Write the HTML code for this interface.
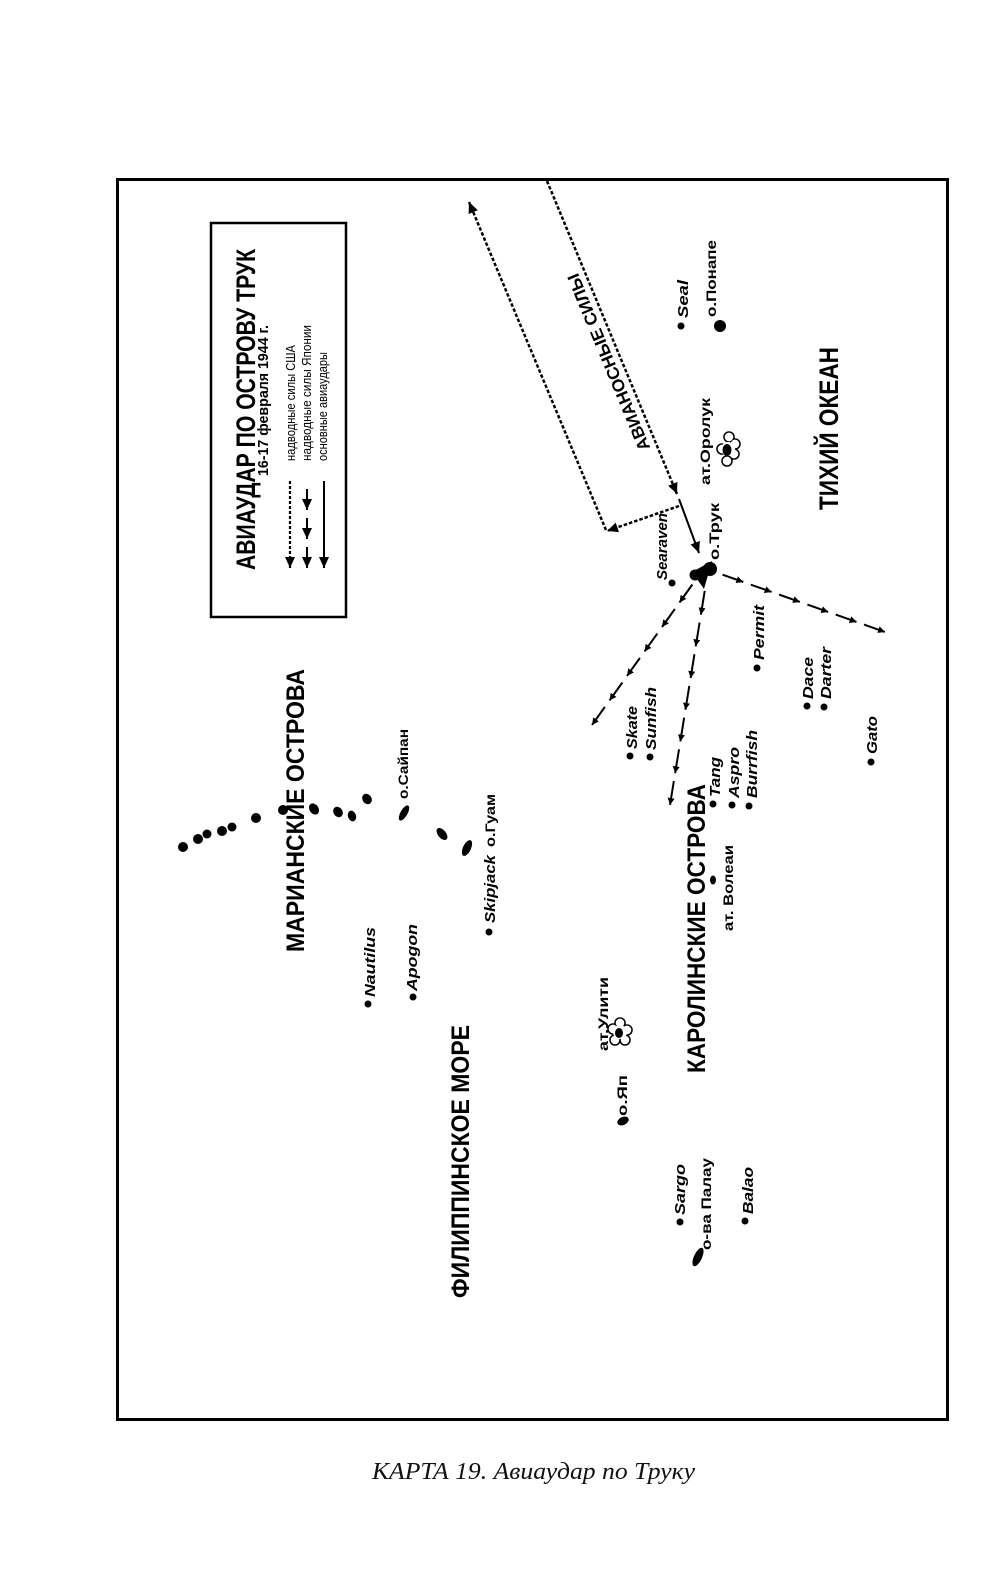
<!DOCTYPE html>
<html>
<head>
<meta charset="utf-8">
<style>
  html, body { margin:0; padding:0; background:#fff; }
  body { width:1000px; height:1578px; overflow:hidden; }
  svg { display:block; }
  .b { font-family:"Liberation Sans", "DejaVu Sans", sans-serif; font-weight:bold; fill:#000; }
  .r { font-family:"Liberation Sans", "DejaVu Sans", sans-serif; font-weight:normal; fill:#000; }
  .bi { font-family:"Liberation Sans", "DejaVu Sans", sans-serif; font-weight:bold; font-style:italic; fill:#000; }
  .cap { font-family:"Liberation Serif", "DejaVu Serif", serif; font-style:italic; fill:#111; }
</style>
</head>
<body>
<svg width="1000" height="1578" viewBox="0 0 1000 1578" xmlns="http://www.w3.org/2000/svg">
  <defs>
    <marker id="big" markerUnits="userSpaceOnUse" markerWidth="12" markerHeight="10" refX="11" refY="5" orient="auto">
      <path d="M0,0 L11,5 L0,10 z" fill="#000"/>
    </marker>
    <marker id="sm" markerUnits="userSpaceOnUse" markerWidth="8" markerHeight="7" refX="7" refY="3.5" orient="auto">
      <path d="M0,0 L7,3.5 L0,7 z" fill="#000"/>
    </marker>
  </defs>

  <rect x="0" y="0" width="1000" height="1578" fill="#fff"/>

  <!-- main frame -->
  <rect x="117.5" y="179.5" width="830" height="1240" fill="none" stroke="#000" stroke-width="3"/>

  <!-- legend box -->
  <rect x="211" y="223" width="135" height="394" fill="none" stroke="#000" stroke-width="2.5"/>
  <text class="b" font-size="27" transform="translate(255,570) rotate(-90)" textLength="321" lengthAdjust="spacingAndGlyphs">АВИАУДАР ПО ОСТРОВУ ТРУК</text>
  <text class="b" font-size="15" transform="translate(268,476) rotate(-90)" textLength="151" lengthAdjust="spacingAndGlyphs">16-17 февраля 1944 г.</text>
  <text class="r" font-size="13" transform="translate(295,461) rotate(-90)" textLength="116" lengthAdjust="spacingAndGlyphs">надводные силы США</text>
  <text class="r" font-size="13" transform="translate(311,461) rotate(-90)" textLength="136" lengthAdjust="spacingAndGlyphs">надводные силы Японии</text>
  <text class="r" font-size="13" transform="translate(327,461) rotate(-90)" textLength="109" lengthAdjust="spacingAndGlyphs">основные авиаудары</text>

  <!-- legend arrows -->
  <line x1="290" y1="481" x2="290" y2="568" stroke="#000" stroke-width="2.2" stroke-dasharray="3 2" marker-end="url(#big)"/>
  <polyline points="307,481 307,510 307,539 307,568" fill="none" stroke="#000" stroke-width="2" stroke-dasharray="21 8" stroke-dashoffset="-8" marker-mid="url(#big)" marker-end="url(#big)"/>
  <line x1="324" y1="481" x2="324" y2="568" stroke="#000" stroke-width="2" marker-end="url(#big)"/>

  <!-- US carrier forces (dotted) -->
  <line x1="547" y1="181" x2="677" y2="494" stroke="#000" stroke-width="2.5" stroke-dasharray="3.5 2" marker-end="url(#big)"/>
  <line x1="679" y1="506" x2="607" y2="531" stroke="#000" stroke-width="2.5" stroke-dasharray="3.5 2" marker-end="url(#big)"/>
  <line x1="606" y1="530" x2="469" y2="202" stroke="#000" stroke-width="2.5" stroke-dasharray="3.5 2" marker-end="url(#big)"/>
  <text class="b" font-size="17" text-anchor="middle" transform="translate(614,360) rotate(-112.5)" textLength="190" lengthAdjust="spacingAndGlyphs">АВИАНОСНЫЕ СИЛЫ</text>

  <!-- main strike arrow -->
  <line x1="679" y1="499" x2="699" y2="553" stroke="#000" stroke-width="2" marker-end="url(#big)"/>

  <!-- Japanese forces from Truk (dashed with arrowheads) -->
  <polyline points="697,578 679.5,602.5 662,627 644.5,651.5 627,676 609.5,700.5 592,725" fill="none" stroke="#000" stroke-width="2" stroke-dasharray="22.1 8" stroke-dashoffset="-8" marker-mid="url(#sm)" marker-end="url(#sm)"/>
  <polyline points="706,583 700.9,614.7 695.7,646.4 690.6,678.1 685.4,709.9 680.3,741.6 675.1,773.3 670,805" fill="none" stroke="#000" stroke-width="2" stroke-dasharray="24.1 8" stroke-dashoffset="-8" marker-mid="url(#sm)" marker-end="url(#sm)"/>
  <polyline points="715,572 743.3,582 771.7,592 800,602 828.3,612 856.7,622 885,632" fill="none" stroke="#000" stroke-width="2" stroke-dasharray="22 8" stroke-dashoffset="-8" marker-mid="url(#sm)" marker-end="url(#sm)"/>

  <!-- Truk blob -->
  <g fill="#000">
    <circle cx="710" cy="569" r="7"/>
    <circle cx="695" cy="575" r="5.5"/>
    <path d="M692,572 L712,561 L704,589 z"/>
  </g>

  <!-- Ponape -->
  <circle cx="720" cy="326" r="6" fill="#000"/>

  <!-- Oroluk atoll -->
  <g stroke="#000" stroke-width="1.6" fill="#fff">
    <circle cx="729" cy="437" r="5"/>
    <circle cx="735" cy="444" r="5"/>
    <circle cx="734" cy="454" r="5"/>
    <circle cx="727" cy="461" r="5"/>
    <circle cx="722" cy="449" r="5"/>
  </g>
  <g fill="#fff">
    <circle cx="729" cy="437" r="4.2"/>
    <circle cx="735" cy="444" r="4.2"/>
    <circle cx="734" cy="454" r="4.2"/>
    <circle cx="727" cy="461" r="4.2"/>
    <circle cx="722" cy="449" r="4.2"/>
    <circle cx="728" cy="449" r="7"/>
  </g>
  <ellipse cx="727" cy="450" rx="4.5" ry="6" fill="#000"/>

  <!-- Ulithi atoll -->
  <g stroke="#000" stroke-width="1.6" fill="#fff">
    <circle cx="620" cy="1023" r="5"/>
    <circle cx="627" cy="1030" r="5"/>
    <circle cx="625" cy="1040" r="5"/>
    <circle cx="615" cy="1040" r="5"/>
    <circle cx="613" cy="1029" r="5"/>
  </g>
  <g fill="#fff">
    <circle cx="620" cy="1023" r="4.2"/>
    <circle cx="627" cy="1030" r="4.2"/>
    <circle cx="625" cy="1040" r="4.2"/>
    <circle cx="615" cy="1040" r="4.2"/>
    <circle cx="613" cy="1029" r="4.2"/>
    <circle cx="620" cy="1032" r="7"/>
  </g>
  <ellipse cx="619" cy="1033" rx="4" ry="5" fill="#000"/>

  <!-- Mariana islands -->
  <g fill="#000">
    <circle cx="183" cy="847" r="5"/>
    <circle cx="198" cy="839" r="5"/>
    <circle cx="207" cy="834" r="4.5"/>
    <circle cx="222" cy="831" r="5"/>
    <circle cx="232" cy="827" r="4.5"/>
    <circle cx="256" cy="818" r="5"/>
    <circle cx="283" cy="810" r="5"/>
    <ellipse cx="314" cy="809" rx="4.5" ry="6" transform="rotate(-35 314 809)"/>
    <ellipse cx="338" cy="812" rx="4.5" ry="5.5" transform="rotate(-35 338 812)"/>
    <ellipse cx="352" cy="816" rx="4" ry="5.5" transform="rotate(-20 352 816)"/>
    <ellipse cx="367" cy="799" rx="4.5" ry="5.5" transform="rotate(-35 367 799)"/>
    <ellipse cx="404" cy="813" rx="3.5" ry="8.5" transform="rotate(30 404 813)"/>
    <ellipse cx="442" cy="834" rx="4" ry="7" transform="rotate(-40 442 834)"/>
    <ellipse cx="467" cy="848" rx="4" ry="8.5" transform="rotate(25 467 848)"/>
  </g>

  <!-- Other islands -->
  <g fill="#000">
    <ellipse cx="713" cy="880" rx="3" ry="4.5"/>
    <ellipse cx="623" cy="1121" rx="6" ry="4" transform="rotate(-25 623 1121)"/>
    <ellipse cx="698" cy="1257" rx="4" ry="10" transform="rotate(25 698 1257)"/>
  </g>

  <!-- Submarine dots -->
  <g fill="#000">
    <circle cx="681" cy="326" r="3.5"/>
    <circle cx="672" cy="583" r="3.5"/>
    <circle cx="757" cy="668" r="3.5"/>
    <circle cx="807" cy="706" r="3.5"/>
    <circle cx="824" cy="707" r="3.5"/>
    <circle cx="871" cy="762" r="3.5"/>
    <circle cx="630" cy="756" r="3.5"/>
    <circle cx="650" cy="757" r="3.5"/>
    <circle cx="713" cy="804" r="3.5"/>
    <circle cx="732" cy="805" r="3.5"/>
    <circle cx="749" cy="806" r="3.5"/>
    <circle cx="489" cy="932" r="3.5"/>
    <circle cx="368" cy="1004" r="3.5"/>
    <circle cx="413" cy="997" r="3.5"/>
    <circle cx="680" cy="1222" r="3.5"/>
    <circle cx="745" cy="1221" r="3.5"/>
  </g>

  <!-- Region labels -->
  <text class="b" font-size="25" transform="translate(304,952) rotate(-90)" textLength="283" lengthAdjust="spacingAndGlyphs">МАРИАНСКИЕ ОСТРОВА</text>
  <text class="b" font-size="25" transform="translate(469,1298) rotate(-90)" textLength="273" lengthAdjust="spacingAndGlyphs">ФИЛИППИНСКОЕ МОРЕ</text>
  <text class="b" font-size="25" transform="translate(705,1073) rotate(-90)" textLength="289" lengthAdjust="spacingAndGlyphs">КАРОЛИНСКИЕ ОСТРОВА</text>
  <text class="b" font-size="27" transform="translate(838,510) rotate(-90)" textLength="163" lengthAdjust="spacingAndGlyphs">ТИХИЙ ОКЕАН</text>

  <!-- Submarine labels -->
  <g class="bi" font-size="15">
    <text transform="translate(688,318) rotate(-90)" textLength="38" lengthAdjust="spacingAndGlyphs">Seal</text>
    <text transform="translate(667,580) rotate(-90)" textLength="67" lengthAdjust="spacingAndGlyphs">Searaven</text>
    <text transform="translate(764,660) rotate(-90)" textLength="55" lengthAdjust="spacingAndGlyphs">Permit</text>
    <text transform="translate(813,699) rotate(-90)" textLength="42" lengthAdjust="spacingAndGlyphs">Dace</text>
    <text transform="translate(831,699) rotate(-90)" textLength="52" lengthAdjust="spacingAndGlyphs">Darter</text>
    <text transform="translate(877,754) rotate(-90)" textLength="38" lengthAdjust="spacingAndGlyphs">Gato</text>
    <text transform="translate(637,749) rotate(-90)" textLength="43" lengthAdjust="spacingAndGlyphs">Skate</text>
    <text transform="translate(656,750) rotate(-90)" textLength="63" lengthAdjust="spacingAndGlyphs">Sunfish</text>
    <text transform="translate(720,797) rotate(-90)" textLength="40" lengthAdjust="spacingAndGlyphs">Tang</text>
    <text transform="translate(739,798) rotate(-90)" textLength="51" lengthAdjust="spacingAndGlyphs">Aspro</text>
    <text transform="translate(757,798) rotate(-90)" textLength="68" lengthAdjust="spacingAndGlyphs">Burrfish</text>
    <text transform="translate(495,923) rotate(-90)" textLength="68" lengthAdjust="spacingAndGlyphs">Skipjack</text>
    <text transform="translate(375,997) rotate(-90)" textLength="70" lengthAdjust="spacingAndGlyphs">Nautilus</text>
    <text transform="translate(417,991) rotate(-90)" textLength="67" lengthAdjust="spacingAndGlyphs">Apogon</text>
    <text transform="translate(685,1215) rotate(-90)" textLength="51" lengthAdjust="spacingAndGlyphs">Sargo</text>
    <text transform="translate(753,1214) rotate(-90)" textLength="47" lengthAdjust="spacingAndGlyphs">Balao</text>
  </g>

  <!-- Place labels -->
  <g class="b" font-size="14">
    <text transform="translate(716,317) rotate(-90)" textLength="77" lengthAdjust="spacingAndGlyphs">о.Понапе</text>
    <text transform="translate(710,485) rotate(-90)" textLength="87" lengthAdjust="spacingAndGlyphs">ат.Оролук</text>
    <text transform="translate(719,560) rotate(-90)" textLength="57" lengthAdjust="spacingAndGlyphs">о.Трук</text>
    <text transform="translate(408,799) rotate(-90)" textLength="70" lengthAdjust="spacingAndGlyphs">о.Сайпан</text>
    <text transform="translate(495,847) rotate(-90)" textLength="53" lengthAdjust="spacingAndGlyphs">о.Гуам</text>
    <text transform="translate(733,931) rotate(-90)" textLength="86" lengthAdjust="spacingAndGlyphs">ат. Волеаи</text>
    <text transform="translate(608,1051) rotate(-90)" textLength="74" lengthAdjust="spacingAndGlyphs">ат.Улити</text>
    <text transform="translate(627,1116) rotate(-90)" textLength="41" lengthAdjust="spacingAndGlyphs">о.Яп</text>
    <text transform="translate(711,1250) rotate(-90)" textLength="92" lengthAdjust="spacingAndGlyphs">о-ва Палау</text>
  </g>

  <!-- Caption -->
  <text class="cap" x="372" y="1479" font-size="24" textLength="323" lengthAdjust="spacingAndGlyphs">КАРТА 19. Авиаудар по Труку</text>
</svg>
</body>
</html>
